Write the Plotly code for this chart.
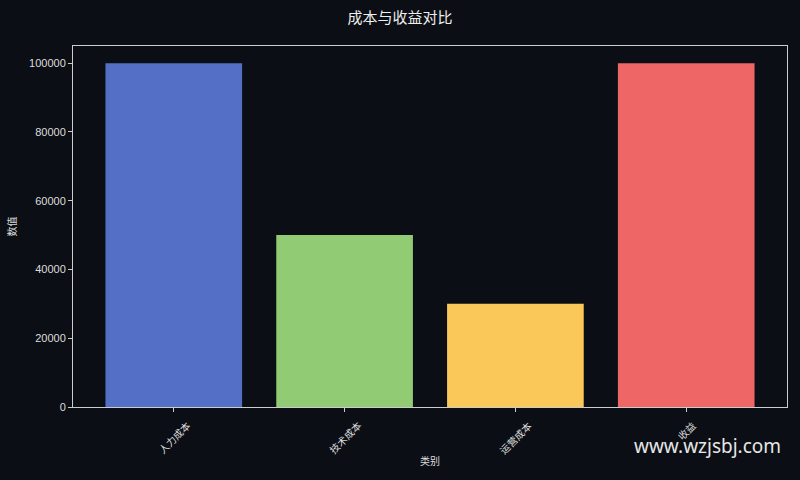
import plotly.graph_objects as go

categories = ["人力成本", "技术成本", "运营成本", "收益"]
values = [100000, 50000, 30000, 100000]
colors = ["#5470c6", "#91cc75", "#fac858", "#ee6666"]
y_ticks = [0, 20000, 40000, 60000, 80000, 100000]

bg = "#0b0e14"
fg = "#dddddd"
font_family = "'Liberation Sans', 'Noto Sans CJK SC', sans-serif"
cjk_family = "'Noto Sans CJK SC', sans-serif"

fig = go.Figure()
fig.add_trace(go.Bar(
    x=list(range(len(categories))),
    y=values,
    marker=dict(color=colors, line=dict(width=0)),
    width=0.8,
    showlegend=False,
))

fig.update_layout(
    width=800,
    height=480,
    paper_bgcolor=bg,
    plot_bgcolor=bg,
    margin=dict(l=71, r=12, t=46, b=73),
    font=dict(family=font_family, color=fg, size=11),
    title=dict(text="成本与收益对比", x=0.5, xanchor="center", y=0.962, yanchor="middle",
               font=dict(family=cjk_family, size=15, color="#eeeeee")),
)

fig.update_xaxes(
    range=[-0.59, 3.59],
    tickmode="array",
    tickvals=list(range(len(categories))),
    showticklabels=False,
    ticks="outside", ticklen=4, tickcolor="#cccccc",
    showline=True, linecolor="#cccccc", linewidth=1, mirror=True,
    showgrid=False, zeroline=False,
    title=dict(text="类别", font=dict(family=cjk_family, size=10), standoff=46),
)
fig.update_yaxes(
    range=[0, 105000],
    tickmode="array",
    tickvals=y_ticks,
    ticktext=[str(v) for v in y_ticks],
    ticks="outside", ticklen=4, tickcolor="#cccccc",
    showline=True, linecolor="#cccccc", linewidth=1, mirror=True,
    showgrid=False, zeroline=False,
    title=dict(text="数值", font=dict(family=cjk_family, size=10), standoff=10),
    tickfont=dict(size=11),
)

# rotated category labels centred under each tick
for i, cat in enumerate(categories):
    fig.add_annotation(
        text=cat, x=i, y=0, xref="x", yref="y",
        xanchor="center", yanchor="top", yshift=-8,
        textangle=-45, showarrow=False,
        font=dict(family=cjk_family, size=10, color=fg),
    )

fig.add_annotation(
    text="www.wzjsbj.com", xref="paper", yref="paper",
    x=0.994, y=-0.108, xanchor="right", yanchor="middle", showarrow=False,
    font=dict(family="'Noto Sans', sans-serif", size=19, color="#e6e6e6"),
)

fig.write_html("out.html", config={"displayModeBar": False},
               post_script="document.body.style.margin='0';")
